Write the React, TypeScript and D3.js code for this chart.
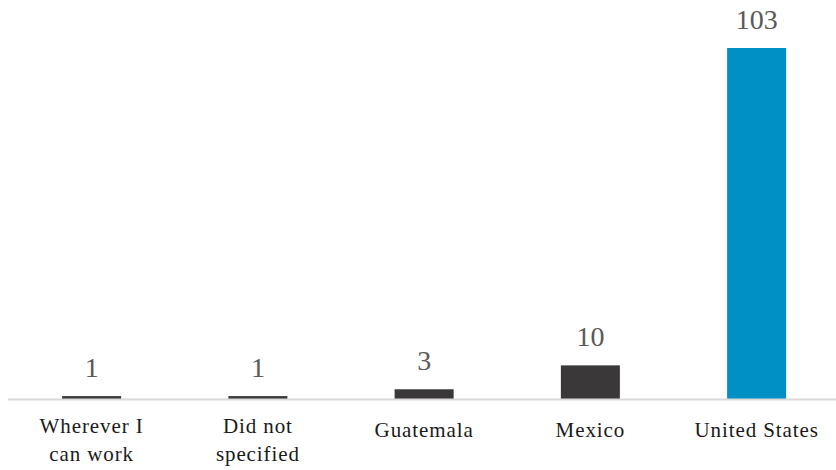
import React from "react";
import * as d3 from "d3";

const categories: string[][] = [
  ["Wherever I", "can work"],
  ["Did not", "specified"],
  ["Guatemala"],
  ["Mexico"],
  ["United States"],
];
const values: number[] = [1, 1, 3, 10, 103];
const barColors: string[] = ["#3a3838", "#3a3838", "#3a3838", "#3a3838", "#0090c6"];

export default function App() {
  const W = 836;
  const H = 470;
  const baseline = 399.5;
  const x = d3
    .scaleBand<number>()
    .domain(values.map((_, i) => i))
    .range([8.5, 839.75])
    .paddingInner(0.645)
    .paddingOuter(0.3225);
  const y = d3.scaleLinear().domain([0, 103]).range([baseline, 48]);

  return (
    <svg
      width={W}
      height={H}
      style={{ position: "absolute", left: 0, top: 0, display: "block" }}
    >
      <rect x={0} y={0} width={W} height={H} fill="#ffffff" />
      {values.map((v, i) => (
        <g key={i}>
          <rect
            x={x(i)!}
            y={y(v)}
            width={x.bandwidth()}
            height={baseline - y(v)}
            fill={barColors[i]}
          />
          <text
            x={x(i)! + x.bandwidth() / 2}
            y={y(v) - 19.5}
            textAnchor="middle"
            fontFamily="'Liberation Serif', serif"
            fontSize={28}
            fill="#595959"
          >
            {v}
          </text>
        </g>
      ))}
      <line x1={8} x2={836} y1={baseline} y2={baseline} stroke="#d9d9d9" strokeWidth={2} />
      {categories.map((lines, i) => {
        const cx = x(i)! + x.bandwidth() / 2;
        const y0 = lines.length > 1 ? 433.3 : 436.7;
        return (
          <text
            key={i}
            textAnchor="middle"
            fontFamily="'Liberation Serif', serif"
            fontSize={21}
            letterSpacing={0.9}
            fill="#1a1a1a"
          >
            {lines.map((l, j) => (
              <tspan key={j} x={cx} y={y0 + j * 28}>
                {l}
              </tspan>
            ))}
          </text>
        );
      })}
    </svg>
  );
}
